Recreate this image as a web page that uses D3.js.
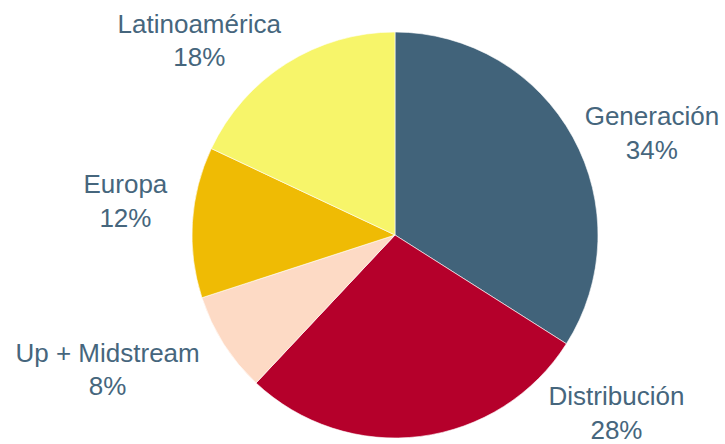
<!DOCTYPE html>
<html>
<head>
<meta charset="utf-8">
<script src="https://cdn.jsdelivr.net/npm/d3@7"></script>
<style>
  html, body { margin: 0; padding: 0; background: #fff; }
  svg { display: block; }
</style>
</head>
<body>
<svg id="chart" width="725" height="444"></svg>
<script>
const categories = ["Generación", "Distribución", "Up + Midstream", "Europa", "Latinoamérica"];
const values = [34, 28, 8, 12, 18];
const colors = ["#41637A", "#B5002B", "#FDDAC5", "#EFBB04", "#F7F56A"];
// label nudges relative to slice outer edge at mid-angle (layout only)
const labelNudge = [[79, -12], [196, -31], [-116, 18], [-67, -29], [-87, -31]];

const W = 725, H = 444;
const cx = 395, cy = 235, R = 203;
const svg = d3.select("#chart");
const g = svg.append("g").attr("transform", `translate(${cx},${cy})`);

const data = categories.map((c, i) => ({ cat: c, value: values[i], i }));
const pie = d3.pie().value(d => d.value).sort(null);
const arcs = pie(data);
const arc = d3.arc().innerRadius(0).outerRadius(R);

g.selectAll("path.slice").data(arcs).enter().append("path")
  .attr("class", "slice")
  .attr("d", arc)
  .attr("fill", d => colors[d.data.i])
  .attr("stroke", "#ffffff")
  .attr("stroke-width", 0.6);

const edgeArc = d3.arc().innerRadius(R).outerRadius(R);
const fontSize = 26, lineGap = 33.5;
const labels = g.selectAll("g.lbl").data(arcs).enter().append("g").attr("class", "lbl")
  .attr("transform", d => {
    const p = edgeArc.centroid(d);
    const n = labelNudge[d.data.i];
    return `translate(${p[0] + n[0]},${p[1] + n[1]})`;
  });
labels.append("text")
  .attr("text-anchor", "middle")
  .attr("font-family", "'Liberation Sans', Arial, sans-serif")
  .attr("font-size", fontSize)
  .attr("fill", "#46667D")
  .each(function(d) {
    const t = d3.select(this);
    const total = d3.sum(values);
    t.append("tspan").attr("x", 0).attr("y", 0).text(d.data.cat);
    t.append("tspan").attr("x", 0).attr("y", lineGap).text(Math.round(d.data.value / total * 100) + "%");
  });
</script>
</body>
</html>
